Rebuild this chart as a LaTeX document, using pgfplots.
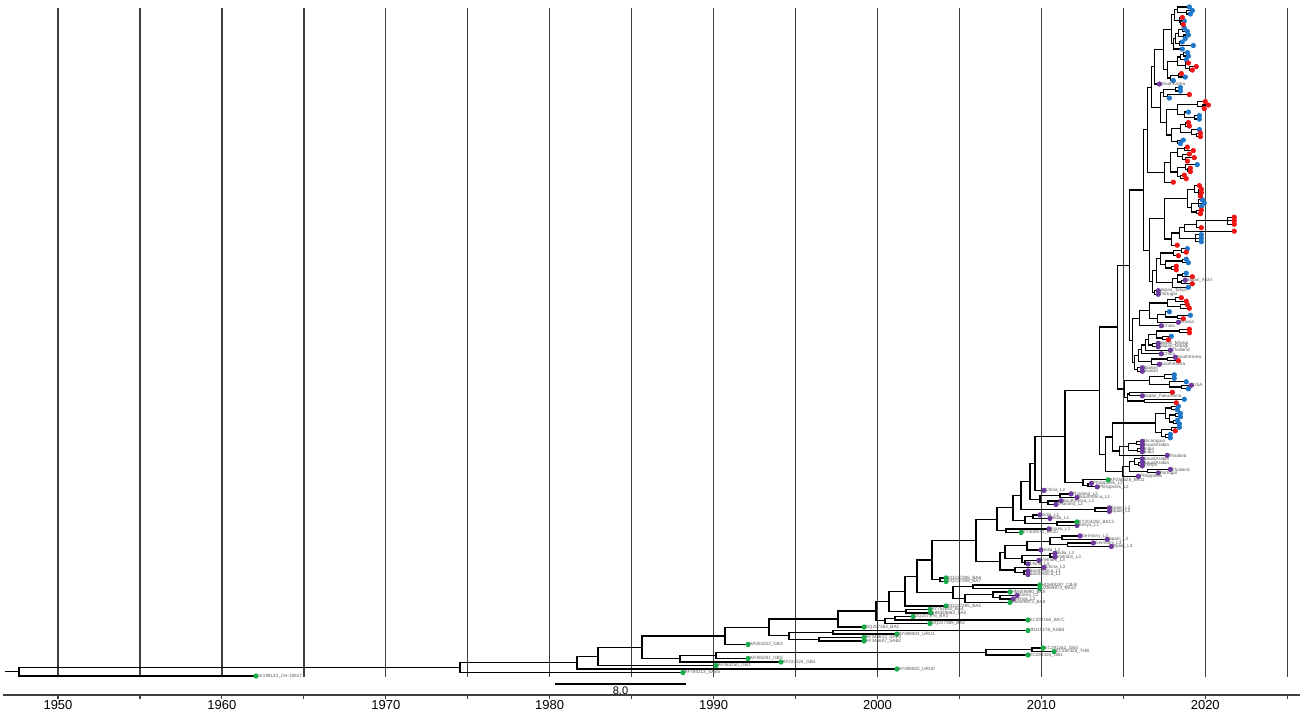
\documentclass[border=0pt]{standalone}
\usepackage{fontspec}
\setmainfont{Liberation Sans}
\usepackage{pgfplots}
\pgfplotsset{compat=1.18}
\definecolor{tipgreen}{HTML}{1AAB4B}
\definecolor{tippurple}{HTML}{6E3AA0}
\definecolor{tipblue}{HTML}{1F78C8}
\definecolor{tipred}{HTML}{F01515}
\begin{document}
\begin{tikzpicture}
\useasboundingbox (-1.5pt,-9.5pt) rectangle (654.5pt,347.5pt);
\begin{axis}[
  at={(0,0)}, anchor=south west,
  scale only axis, width=648.5pt, height=347.5pt,
  xmin=1946.644, xmax=2025.78, ymin=-197.41, ymax=0.998,
  axis x line=bottom, axis y line=none,
  axis line style={black!75, line width=0.7pt, -},
  xtick={1950,1960,...,2020}, minor xtick={1955,1965,...,2025},
  tick align=outside, major tick length=2pt, minor tick length=2pt,
  every tick/.style={black!75, line width=0.6pt},
  xticklabel style={font=\fontsize{6.5}{7}\selectfont, yshift=3pt},
  /pgf/number format/1000 sep={},
  /pgf/number format/assume math mode=true,
  clip=false, unbounded coords=jump,
  tiplab/.style={nodes near coords, point meta=explicit symbolic,
    nodes near coords style={anchor=west, font=\fontsize{2.3}{2.5}\selectfont, text=black!65, inner sep=0.6pt}},
]
% vertical reference lines
\addplot[black!75, line width=0.7pt] coordinates {
(1950,-1.285) (1950,-192.27) (nan,nan)
(1955,-1.285) (1955,-192.27) (nan,nan)
(1960,-1.285) (1960,-192.27) (nan,nan)
(1965,-1.285) (1965,-192.27) (nan,nan)
(1970,-1.285) (1970,-192.27) (nan,nan)
(1975,-1.285) (1975,-192.27) (nan,nan)
(1980,-1.285) (1980,-192.27) (nan,nan)
(1985,-1.285) (1985,-192.27) (nan,nan)
(1990,-1.285) (1990,-192.27) (nan,nan)
(1995,-1.285) (1995,-192.27) (nan,nan)
(2000,-1.285) (2000,-192.27) (nan,nan)
(2005,-1.285) (2005,-192.27) (nan,nan)
(2010,-1.285) (2010,-192.27) (nan,nan)
(2015,-1.285) (2015,-192.27) (nan,nan)
(2020,-1.285) (2020,-192.27) (nan,nan)
(2025,-1.285) (2025,-192.27)
};
% tree branches
\addplot[black, line width=0.6pt, line join=miter] coordinates {
(2019.21,-2) (2018.84,-2) (2018.84,-3) (2019.09,-3) (nan,nan)
(2019.03,-1) (2018.29,-1) (2018.29,-2.5) (2018.84,-2.5) (nan,nan)
(2018.72,-5) (2018.48,-5) (2018.48,-6) (2018.66,-6) (nan,nan)
(2018.60,-4) (2018.42,-4) (2018.42,-5.5) (2018.48,-5.5) (nan,nan)
(2018.29,-1.75) (2018.11,-1.75) (2018.11,-4.75) (2018.42,-4.75) (nan,nan)
(2018.72,-7) (2018.60,-7) (2018.60,-8) (2018.91,-8) (nan,nan)
(2018.97,-9) (2018.66,-9) (2018.66,-10) (2018.78,-10) (nan,nan)
(2018.60,-7.5) (2018.36,-7.5) (2018.36,-9.5) (2018.66,-9.5) (nan,nan)
(2018.60,-11) (2018.42,-11) (2018.42,-12) (2019.27,-12) (nan,nan)
(2018.36,-8.5) (2018.17,-8.5) (2018.17,-11.5) (2018.42,-11.5) (nan,nan)
(2018.17,-10) (2018.05,-10) (2018.05,-13) (2018.60,-13) (nan,nan)
(2018.11,-3.25) (2017.93,-3.25) (2017.93,-11.5) (2018.05,-11.5) (nan,nan)
(2018.91,-14) (2018.66,-14) (2018.66,-15) (2018.97,-15) (nan,nan)
(2018.66,-14.5) (2018.48,-14.5) (2018.48,-16) (2018.84,-16) (nan,nan)
(2019.45,-18) (2019.03,-18) (2019.03,-19) (2019.21,-19) (nan,nan)
(2018.97,-17) (2018.78,-17) (2018.78,-18.5) (2019.03,-18.5) (nan,nan)
(2018.48,-15.25) (2018.29,-15.25) (2018.29,-17.75) (2018.78,-17.75) (nan,nan)
(2018.54,-20) (2018.36,-20) (2018.36,-21) (2018.78,-21) (nan,nan)
(2018.36,-20.5) (2017.87,-20.5) (2017.87,-22) (2018.05,-22) (nan,nan)
(2018.29,-16.5) (2017.68,-16.5) (2017.68,-21.25) (2017.87,-21.25) (nan,nan)
(2017.93,-7.375) (2017.44,-7.375) (2017.44,-18.875) (2017.68,-18.875) (nan,nan)
(2017.44,-13.125) (2016.89,-13.125) (2016.89,-23) (2017.20,-23) (nan,nan)
(2018.48,-24) (2018.17,-24) (2018.17,-25) (2018.48,-25) (nan,nan)
(2019.03,-26) (2017.68,-26) (2017.68,-27) (2017.81,-27) (nan,nan)
(2018.17,-24.5) (2017.44,-24.5) (2017.44,-26.5) (2017.68,-26.5) (nan,nan)
(2020.19,-29) (2019.82,-29) (2019.82,-30) (2019.94,-30) (nan,nan)
(2020.00,-28) (2019.51,-28) (2019.51,-29.5) (2019.82,-29.5) (nan,nan)
(2019.64,-32) (2019.33,-32) (2019.33,-33) (2019.64,-33) (nan,nan)
(2018.97,-31) (2018.72,-31) (2018.72,-32.5) (2019.33,-32.5) (nan,nan)
(2019.51,-28.75) (2018.29,-28.75) (2018.29,-31.75) (2018.72,-31.75) (nan,nan)
(2018.97,-34) (2018.78,-34) (2018.78,-35) (2019.03,-35) (nan,nan)
(2019.70,-37) (2019.45,-37) (2019.45,-38) (2019.70,-38) (nan,nan)
(2019.64,-36) (2019.15,-36) (2019.15,-37.5) (2019.45,-37.5) (nan,nan)
(2018.78,-34.5) (2018.48,-34.5) (2018.48,-36.75) (2019.15,-36.75) (nan,nan)
(2018.66,-39) (2018.29,-39) (2018.29,-40) (2018.48,-40) (nan,nan)
(2018.48,-35.625) (2017.93,-35.625) (2017.93,-39.5) (2018.29,-39.5) (nan,nan)
(2018.29,-30.25) (2017.62,-30.25) (2017.62,-37.56) (2017.93,-37.56) (nan,nan)
(2017.44,-25.5) (2017.26,-25.5) (2017.26,-33.9) (2017.62,-33.9) (nan,nan)
(2016.89,-18.06) (2016.71,-18.06) (2016.71,-29.7) (2017.26,-29.7) (nan,nan)
(2018.91,-41) (2018.72,-41) (2018.72,-42) (2019.27,-42) (nan,nan)
(2019.33,-44) (2018.78,-44) (2018.78,-45) (2018.91,-45) (nan,nan)
(2019.03,-43) (2018.60,-43) (2018.60,-44.5) (2018.78,-44.5) (nan,nan)
(2018.72,-41.5) (2018.29,-41.5) (2018.29,-43.75) (2018.60,-43.75) (nan,nan)
(2019.09,-47) (2018.91,-47) (2018.91,-48) (2019.09,-48) (nan,nan)
(2019.51,-46) (2018.78,-46) (2018.78,-47.5) (2018.91,-47.5) (nan,nan)
(2018.72,-49) (2018.48,-49) (2018.48,-50) (2018.84,-50) (nan,nan)
(2018.78,-46.75) (2018.29,-46.75) (2018.29,-49.5) (2018.48,-49.5) (nan,nan)
(2018.29,-42.625) (2017.87,-42.625) (2017.87,-48.125) (2018.29,-48.125) (nan,nan)
(2017.87,-45.375) (2017.50,-45.375) (2017.50,-51) (2018.05,-51) (nan,nan)
(2016.71,-23.88) (2016.46,-23.88) (2016.46,-48.19) (2017.50,-48.19) (nan,nan)
(2019.76,-53) (2019.58,-53) (2019.58,-55) (2019.70,-55) (nan,nan)
(2019.58,-54) (2019.76,-54) (nan,nan)
(2019.64,-52) (2019.33,-52) (2019.33,-54) (2019.58,-54) (nan,nan)
(2019.82,-56) (2019.58,-56) (2019.58,-58) (2019.76,-58) (nan,nan)
(2019.58,-57) (2019.94,-57) (nan,nan)
(2019.76,-59) (2019.45,-59) (2019.45,-60) (2019.70,-60) (nan,nan)
(2019.58,-57) (2019.15,-57) (2019.15,-59.5) (2019.45,-59.5) (nan,nan)
(2019.33,-53) (2018.91,-53) (2018.91,-58.25) (2019.15,-58.25) (nan,nan)
(2021.77,-61) (2021.35,-61) (2021.35,-63) (2021.77,-63) (nan,nan)
(2021.35,-62) (2021.77,-62) (nan,nan)
(2021.35,-62) (2019.45,-62) (2019.45,-64) (2019.76,-64) (nan,nan)
(2019.45,-63) (2018.72,-63) (2018.72,-65) (2021.77,-65) (nan,nan)
(2019.76,-66) (2019.39,-66) (2019.39,-68) (2019.76,-68) (nan,nan)
(2019.39,-67) (2019.76,-67) (nan,nan)
(2018.72,-64) (2018.42,-64) (2018.42,-67) (2019.39,-67) (nan,nan)
(2018.42,-65.5) (2017.93,-65.5) (2017.93,-69) (2018.29,-69) (nan,nan)
(2018.91,-55.625) (2017.50,-55.625) (2017.50,-67.25) (2017.93,-67.25) (nan,nan)
(2018.91,-70) (2018.54,-70) (2018.54,-71) (2018.84,-71) (nan,nan)
(2018.54,-70.5) (2018.05,-70.5) (2018.05,-72) (2018.36,-72) (nan,nan)
(2018.84,-73) (2018.60,-73) (2018.60,-74) (2018.97,-74) (nan,nan)
(2018.23,-75) (2017.93,-75) (2017.93,-76) (2018.23,-76) (nan,nan)
(2018.60,-73.5) (2017.56,-73.5) (2017.56,-75.5) (2017.93,-75.5) (nan,nan)
(2018.05,-71.25) (2017.26,-71.25) (2017.26,-74.5) (2017.56,-74.5) (nan,nan)
(2018.84,-77) (2018.60,-77) (2018.60,-78) (2019.21,-78) (nan,nan)
(2018.78,-79) (2018.54,-79) (2018.54,-80) (2019.21,-80) (nan,nan)
(2018.60,-77.5) (2018.29,-77.5) (2018.29,-79.5) (2018.54,-79.5) (nan,nan)
(2018.29,-78.5) (2017.99,-78.5) (2017.99,-81) (2018.97,-81) (nan,nan)
(2017.26,-72.875) (2017.01,-72.875) (2017.01,-79.75) (2017.99,-79.75) (nan,nan)
(2017.13,-82) (2016.89,-82) (2016.89,-83) (2017.13,-83) (nan,nan)
(2017.01,-76.31) (2016.77,-76.31) (2016.77,-82.5) (2016.89,-82.5) (nan,nan)
(2017.50,-61.44) (2016.59,-61.44) (2016.59,-79.41) (2016.77,-79.41) (nan,nan)
(2016.46,-36.03) (2016.22,-36.03) (2016.22,-70.42) (2016.59,-70.42) (nan,nan)
(2018.54,-84) (2018.17,-84) (2018.17,-85) (2018.84,-85) (nan,nan)
(2018.91,-86) (2018.48,-86) (2018.48,-87) (2019.03,-87) (nan,nan)
(2018.17,-84.5) (2017.68,-84.5) (2017.68,-86.5) (2018.48,-86.5) (nan,nan)
(2019.09,-89) (2018.29,-89) (2018.29,-90) (2018.66,-90) (nan,nan)
(2017.81,-88) (2017.56,-88) (2017.56,-89.5) (2018.29,-89.5) (nan,nan)
(2017.56,-88.75) (2017.07,-88.75) (2017.07,-91) (2018.36,-91) (nan,nan)
(2017.68,-85.5) (2016.59,-85.5) (2016.59,-89.875) (2017.07,-89.875) (nan,nan)
(2016.59,-87.69) (2015.98,-87.69) (2015.98,-92) (2017.32,-92) (nan,nan)
(2019.03,-93) (2018.42,-93) (2018.42,-94) (2019.03,-94) (nan,nan)
(2017.93,-95) (2017.38,-95) (2017.38,-96) (2017.75,-96) (nan,nan)
(2018.42,-93.5) (2017.01,-93.5) (2017.01,-95.5) (2017.38,-95.5) (nan,nan)
(2017.13,-97) (2016.77,-97) (2016.77,-98) (2017.13,-98) (nan,nan)
(2017.01,-94.5) (2016.53,-94.5) (2016.53,-97.5) (2016.77,-97.5) (nan,nan)
(2016.53,-96) (2016.34,-96) (2016.34,-99) (2017.87,-99) (nan,nan)
(2016.34,-97.5) (2016.10,-97.5) (2016.10,-100) (2017.32,-100) (nan,nan)
(2018.17,-101) (2017.68,-101) (2017.68,-102) (2018.36,-102) (nan,nan)
(2017.68,-101.5) (2016.71,-101.5) (2016.71,-103) (2017.20,-103) (nan,nan)
(2016.10,-98.75) (2015.92,-98.75) (2015.92,-102.25) (2016.71,-102.25) (nan,nan)
(2016.16,-104) (2015.85,-104) (2015.85,-105) (2016.16,-105) (nan,nan)
(2015.92,-100.5) (2015.67,-100.5) (2015.67,-104.5) (2015.85,-104.5) (nan,nan)
(2015.98,-89.84) (2015.55,-89.84) (2015.55,-102.5) (2015.67,-102.5) (nan,nan)
(2016.22,-53.23) (2015.37,-53.23) (2015.37,-96.17) (2015.55,-96.17) (nan,nan)
(2018.11,-106) (2017.50,-106) (2017.50,-107) (2018.11,-107) (nan,nan)
(2019.15,-109) (2018.54,-109) (2018.54,-110) (2018.97,-110) (nan,nan)
(2018.84,-108) (2017.81,-108) (2017.81,-109.5) (2018.54,-109.5) (nan,nan)
(2017.50,-106.5) (2016.59,-106.5) (2016.59,-108.75) (2017.81,-108.75) (nan,nan)
(2017.99,-111) (2015.37,-111) (2015.37,-112) (2016.16,-112) (nan,nan)
(2018.72,-113) (2016.28,-113) (2016.28,-114) (2018.23,-114) (nan,nan)
(2015.37,-111.5) (2015.24,-111.5) (2015.24,-113.5) (2016.28,-113.5) (nan,nan)
(2016.59,-107.625) (2015.06,-107.625) (2015.06,-112.5) (2015.24,-112.5) (nan,nan)
(2015.37,-74.7) (2014.63,-74.7) (2014.63,-110.06) (2015.06,-110.06) (nan,nan)
(2018.36,-115) (2017.93,-115) (2017.93,-116) (2018.29,-116) (nan,nan)
(2018.48,-117) (2018.17,-117) (2018.17,-118) (2018.48,-118) (nan,nan)
(2018.29,-119) (2018.05,-119) (2018.05,-120) (2018.42,-120) (nan,nan)
(2018.17,-117.5) (2017.81,-117.5) (2017.81,-119.5) (2018.05,-119.5) (nan,nan)
(2017.93,-115.5) (2017.56,-115.5) (2017.56,-118.5) (2017.81,-118.5) (nan,nan)
(2018.42,-121) (2017.93,-121) (2017.93,-122) (2018.17,-122) (nan,nan)
(2017.87,-123) (2017.56,-123) (2017.56,-124) (2017.87,-124) (nan,nan)
(2017.93,-121.5) (2017.32,-121.5) (2017.32,-123.5) (2017.56,-123.5) (nan,nan)
(2017.56,-117) (2016.95,-117) (2016.95,-122.5) (2017.32,-122.5) (nan,nan)
(2016.16,-125) (2015.79,-125) (2015.79,-126) (2016.16,-126) (nan,nan)
(2016.16,-127) (2015.85,-127) (2015.85,-128) (2016.16,-128) (nan,nan)
(2015.79,-125.5) (2015.31,-125.5) (2015.31,-127.5) (2015.85,-127.5) (nan,nan)
(2015.31,-126.5) (2014.76,-126.5) (2014.76,-129) (2017.68,-129) (nan,nan)
(2016.95,-119.75) (2014.33,-119.75) (2014.33,-127.75) (2014.76,-127.75) (nan,nan)
(2016.16,-131) (2015.92,-131) (2015.92,-132) (2016.16,-132) (nan,nan)
(2016.16,-130) (2015.67,-130) (2015.67,-131.5) (2015.92,-131.5) (nan,nan)
(2017.87,-133) (2016.46,-133) (2016.46,-134) (2017.13,-134) (nan,nan)
(2015.67,-130.75) (2015.37,-130.75) (2015.37,-133.5) (2016.46,-133.5) (nan,nan)
(2015.37,-132.125) (2014.94,-132.125) (2014.94,-135) (2015.92,-135) (nan,nan)
(2014.33,-123.75) (2013.90,-123.75) (2013.90,-133.56) (2014.94,-133.56) (nan,nan)
(2014.63,-92.38) (2013.54,-92.38) (2013.54,-128.66) (2013.90,-128.66) (nan,nan)
(2013.05,-137) (2012.84,-137) (2012.84,-138) (2013.41,-138) (nan,nan)
(2014.08,-136) (2012.54,-136) (2012.54,-137.5) (2012.84,-137.5) (nan,nan)
(2013.54,-110.52) (2011.44,-110.52) (2011.44,-136.75) (2012.54,-136.75) (nan,nan)
(2011.44,-123.64) (2009.61,-123.64) (2009.61,-139) (2010.16,-139) (nan,nan)
(2011.81,-140) (2011.14,-140) (2011.14,-141) (2012.17,-141) (nan,nan)
(2011.20,-142) (2010.40,-142) (2010.40,-143) (2010.89,-143) (nan,nan)
(2011.14,-140.5) (2009.91,-140.5) (2009.91,-142.5) (2010.40,-142.5) (nan,nan)
(2009.61,-131.32) (2009.30,-131.32) (2009.30,-141.5) (2009.91,-141.5) (nan,nan)
(2014.15,-144) (2013.27,-144) (2013.27,-145) (2014.15,-145) (nan,nan)
(2009.30,-136.41) (2008.76,-136.41) (2008.76,-144.5) (2013.27,-144.5) (nan,nan)
(2009.91,-146) (2009.49,-146) (2009.49,-147) (2010.52,-147) (nan,nan)
(2012.17,-148) (2010.95,-148) (2010.95,-149) (2012.17,-149) (nan,nan)
(2009.49,-146.5) (2009.00,-146.5) (2009.00,-148.5) (2010.95,-148.5) (nan,nan)
(2008.76,-140.46) (2008.27,-140.46) (2008.27,-147.5) (2009.00,-147.5) (nan,nan)
(2010.46,-150) (2007.84,-150) (2007.84,-151) (2008.76,-151) (nan,nan)
(2008.27,-143.98) (2007.29,-143.98) (2007.29,-150.5) (2007.84,-150.5) (nan,nan)
(2012.36,-152) (2011.26,-152) (2011.26,-153) (2014.02,-153) (nan,nan)
(2013.17,-154) (2011.57,-154) (2011.57,-155) (2014.27,-155) (nan,nan)
(2011.26,-152.5) (2010.52,-152.5) (2010.52,-154.5) (2011.57,-154.5) (nan,nan)
(2010.52,-153.5) (2009.12,-153.5) (2009.12,-156) (2009.97,-156) (nan,nan)
(2010.83,-157) (2010.52,-157) (2010.52,-158) (2010.83,-158) (nan,nan)
(2009.85,-159) (2009.00,-159) (2009.00,-160) (2009.18,-160) (nan,nan)
(2010.52,-157.5) (2008.82,-157.5) (2008.82,-159.5) (2009.00,-159.5) (nan,nan)
(2009.12,-154.75) (2007.78,-154.75) (2007.78,-158.5) (2008.82,-158.5) (nan,nan)
(2009.18,-162) (2008.94,-162) (2008.94,-163) (2009.18,-163) (nan,nan)
(2010.16,-161) (2008.39,-161) (2008.39,-162.5) (2008.94,-162.5) (nan,nan)
(2007.78,-156.63) (2007.47,-156.63) (2007.47,-161.75) (2008.39,-161.75) (nan,nan)
(2007.29,-147.24) (2006.01,-147.24) (2006.01,-159.19) (2007.47,-159.19) (nan,nan)
(2004.18,-164) (2003.81,-164) (2003.81,-165) (2004.18,-165) (nan,nan)
(2006.01,-153.22) (2003.33,-153.22) (2003.33,-164.5) (2003.81,-164.5) (nan,nan)
(2009.91,-166) (2005.83,-166) (2005.83,-167) (2009.91,-167) (nan,nan)
(2008.51,-169) (2007.47,-169) (2007.47,-170) (2008.27,-170) (nan,nan)
(2008.08,-168) (2007.05,-168) (2007.05,-169.5) (2007.47,-169.5) (nan,nan)
(2007.05,-168.75) (2005.34,-168.75) (2005.34,-171) (2008.08,-171) (nan,nan)
(2005.83,-166.5) (2004.61,-166.5) (2004.61,-169.88) (2005.34,-169.88) (nan,nan)
(2003.33,-158.86) (2002.41,-158.86) (2002.41,-168.19) (2004.61,-168.19) (nan,nan)
(2002.41,-163.53) (2001.68,-163.53) (2001.68,-172) (2004.18,-172) (nan,nan)
(2003.20,-173) (2001.74,-173) (2001.74,-174) (2003.26,-174) (nan,nan)
(2001.68,-167.76) (2000.70,-167.76) (2000.70,-173.5) (2001.74,-173.5) (nan,nan)
(2002.17,-175) (2001.07,-175) (2001.07,-176) (2009.18,-176) (nan,nan)
(2001.07,-175.5) (2000.46,-175.5) (2000.46,-177) (2003.20,-177) (nan,nan)
(2000.70,-170.63) (1999.91,-170.63) (1999.91,-176.25) (2000.46,-176.25) (nan,nan)
(1999.91,-173.44) (1997.59,-173.44) (1997.59,-178) (1999.18,-178) (nan,nan)
(2009.18,-179) (1997.29,-179) (1997.29,-180) (2001.19,-180) (nan,nan)
(1999.18,-181) (1996.43,-181) (1996.43,-182) (1999.18,-182) (nan,nan)
(1997.29,-179.5) (1994.60,-179.5) (1994.60,-181.5) (1996.43,-181.5) (nan,nan)
(1997.59,-175.72) (1993.38,-175.72) (1993.38,-180.5) (1994.60,-180.5) (nan,nan)
(1993.38,-178.11) (1990.70,-178.11) (1990.70,-183) (1992.10,-183) (nan,nan)
(2010.10,-184) (2009.43,-184) (2009.43,-185) (2010.77,-185) (nan,nan)
(2009.43,-184.5) (2006.62,-184.5) (2006.62,-186) (2009.18,-186) (nan,nan)
(2006.62,-185.25) (1990.15,-185.25) (1990.15,-187) (1992.10,-187) (nan,nan)
(1990.15,-186.13) (1987.95,-186.13) (1987.95,-188) (1994.11,-188) (nan,nan)
(1990.70,-180.56) (1985.63,-180.56) (1985.63,-187.06) (1987.95,-187.06) (nan,nan)
(1985.63,-183.81) (1982.95,-183.81) (1982.95,-189) (1990.15,-189) (nan,nan)
(1982.95,-186.41) (1981.67,-186.41) (1981.67,-190) (2001.19,-190) (nan,nan)
(1981.67,-188.2) (1974.53,-188.2) (1974.53,-191) (1988.13,-191) (nan,nan)
(1974.53,-189.6) (1947.62,-189.6) (1947.62,-192) (1962.08,-192) (nan,nan)
(1946.77,-190.8) (1947.62,-190.8)
};
% scale bar
\addplot[black, line width=0.6pt] coordinates {(1980.32,-194.26) (1988.32,-194.26)};
\node[anchor=north, font=\fontsize{5.5}{6}\selectfont, inner sep=1pt] at (axis cs:1984.32,-194.5) {8.0};
% blue tips
\addplot[only marks, mark=*, mark size=1.1pt, color=tipblue] table {
x y
2019.03 -1
2019.21 -2
2019.09 -3
2018.72 -5
2018.72 -7
2018.91 -8
2018.97 -9
2018.78 -10
2018.60 -11
2019.27 -12
2018.60 -13
2018.91 -14
2018.97 -15
2018.84 -16
2018.78 -21
2018.05 -22
2018.48 -24
2018.48 -25
2017.81 -27
2018.97 -31
2019.64 -32
2019.64 -33
2019.64 -36
2018.66 -39
2018.48 -40
2019.51 -46
2019.82 -56
2019.94 -57
2019.76 -58
2019.76 -66
2019.76 -67
2019.76 -68
2018.91 -70
2018.84 -73
2018.97 -74
2018.84 -77
2018.97 -81
2017.81 -88
2019.09 -89
2017.93 -95
2018.11 -106
2018.11 -107
2018.84 -108
2018.97 -110
2018.72 -113
2018.36 -115
2018.29 -116
2018.48 -117
2018.48 -118
2018.29 -119
2018.42 -120
2018.42 -121
2017.87 -123
2017.87 -124
};
% red tips
\addplot[only marks, mark=*, mark size=1.1pt, color=tipred] table {
x y
2018.60 -4
2018.66 -6
2018.97 -17
2019.45 -18
2019.21 -19
2018.54 -20
2019.03 -26
2020.00 -28
2020.19 -29
2019.94 -30
2018.97 -34
2019.03 -35
2019.70 -37
2019.70 -38
2018.91 -41
2019.27 -42
2019.03 -43
2019.33 -44
2018.91 -45
2019.09 -47
2019.09 -48
2018.72 -49
2018.84 -50
2018.05 -51
2019.64 -52
2019.76 -53
2019.76 -54
2019.70 -55
2019.76 -59
2019.70 -60
2021.77 -61
2021.77 -62
2021.77 -63
2019.76 -64
2021.77 -65
2018.29 -69
2018.84 -71
2018.36 -72
2018.23 -75
2018.23 -76
2019.21 -78
2019.21 -80
2018.54 -84
2018.84 -85
2018.91 -86
2019.03 -87
2018.66 -90
2019.03 -93
2019.03 -94
2017.75 -96
2018.36 -102
2017.99 -111
2018.23 -114
2018.17 -122
};
% purple tips
\addplot[only marks, mark=*, mark size=1.1pt, color=tippurple, tiplab] table[meta=label] {
x y label
2017.20 -23 SouthKorea
2018.78 -79 Japan\_Aichi
2017.13 -82 Japan\_Tokyo
2017.13 -83 Portugal
2018.36 -91 Russia
2017.32 -92 China
2017.13 -97 Japan\_Miyagi
2017.13 -98 Japan\_Miyagi
2017.87 -99 Thailand
2017.32 -100 China
2018.17 -101 SouthKorea
2017.20 -103 SouthKorea
2016.16 -104 Taiwan
2016.16 -105 Taiwan
2019.15 -109 USA
2016.16 -112 Japan\_Fukushima
2016.16 -125 Nicaragua
2016.16 -126 SaudiArabia
2016.16 -127 India
2016.16 -128 India
2017.68 -129 Thailand
2016.16 -130 SaudiArabia
2016.16 -131 SaudiArabia
2016.16 -132 Kenya
2017.87 -133 Thailand
2017.13 -134 Portugal
2015.92 -135 Philippines
2013.05 -137 Philippines\_L2
2013.41 -138 Philippines\_L2
2010.16 -139 China\_L2
2011.81 -140 Thailand\_L2
2012.17 -141 SouthAfrica\_L2
2011.20 -142 SouthAfrica\_L2
2010.89 -143 Thailand\_L2
2014.15 -144 Spain\_L2
2014.15 -145 Spain\_L2
2009.91 -146 India\_L1
2010.52 -147 India\_L1
2012.17 -149 Kenya\_L1
2010.46 -150 Korea\_L1
2012.36 -152 Germany\_L3
2014.02 -153 Spain\_L3
2013.17 -154 Germany\_L3
2014.27 -155 Spain\_L3
2009.97 -156 India\_L3
2010.83 -157 India\_L3
2010.83 -158 Vietnam\_L3
2009.85 -159 Vietnam\_L3
2009.18 -160 China\_L3
2010.16 -161 China\_L3
2009.18 -162 SouthAfrica\_L1
2009.18 -163 SouthAfrica\_L1
2008.51 -169 Korea\_L1
2008.27 -170 Kenya\_L1
};
% green tips
\addplot[only marks, mark=*, mark size=1.1pt, color=tipgreen, tiplab] table[meta=label] {
x y label
2014.08 -136 KP258526\_BA11
2012.17 -148 KY204208\_BA13
2008.76 -151 KY300970\_BA10
2004.18 -164 DQ227386\_BA6
2004.18 -165 DQ227398\_BA7
2009.91 -166 HQ699297\_CB-B
2009.91 -167 JX069873\_BA12
2008.08 -168 HM459890\_BA9
2008.08 -171 HM459873\_BA8
2004.18 -172 DQ227395\_BA5
2003.20 -173 AY751130\_BA4
2003.26 -174 HM459863\_BA5
2002.17 -175 DQ207376\_BA3
2009.18 -176 KC297186\_BA-C
2003.20 -177 DQ227389\_BA2
1999.18 -178 DQ207363\_BA1
2009.18 -179 JN119478\_SAB4
2001.19 -180 AY498804\_URU1
1999.18 -181 AF346613\_SAB3
1999.18 -182 AF346607\_SAB2
1992.10 -183 AF063252\_GB3
2010.10 -184 KC291262\_GB5
2010.77 -185 KC262326\_THB
2009.18 -186 KC291426\_GB1
1992.10 -187 AF085281\_GB2
1994.11 -188 AF233524\_GB4
1990.15 -189 AF063250\_GB1
2001.19 -190 AY498802\_URU0
1988.13 -191 AF784213\_SAB5
1962.08 -192 JX198143\_CH-18537
};
\end{axis}
\end{tikzpicture}
\end{document}
